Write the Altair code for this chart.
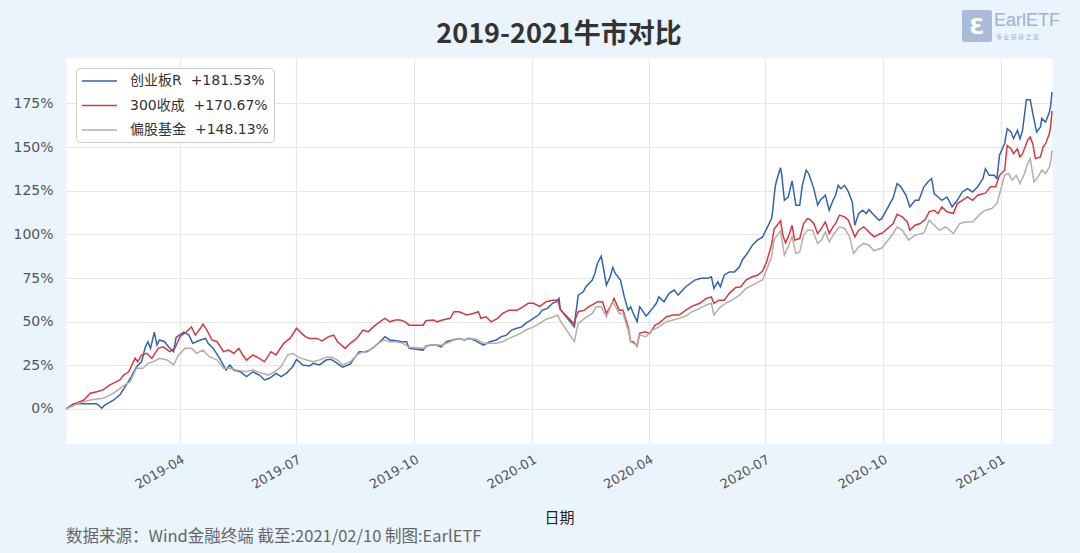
import altair as alt
import pandas as pd

series_names = ["创业板R", "300收成", "偏股基金"]
series_colors = ["#3462B3", "#D13B40", "#B8ADA4"]

cyb_dates = [
    "2019-01-02", "2019-01-08", "2019-01-13", "2019-01-26", "2019-01-30", "2019-02-01", "2019-02-08",
    "2019-02-13", "2019-02-18", "2019-02-22", "2019-02-26", "2019-03-02", "2019-03-05", "2019-03-07",
    "2019-03-09", "2019-03-12", "2019-03-14", "2019-03-16", "2019-03-20", "2019-03-23", "2019-03-27",
    "2019-03-29", "2019-04-04", "2019-04-08", "2019-04-11", "2019-04-17", "2019-04-21", "2019-04-23",
    "2019-04-27", "2019-05-02", "2019-05-07", "2019-05-10", "2019-05-13", "2019-05-18", "2019-05-23",
    "2019-05-28", "2019-06-02", "2019-06-06", "2019-06-10", "2019-06-15", "2019-06-19", "2019-06-23",
    "2019-06-28", "2019-07-01", "2019-07-06", "2019-07-11", "2019-07-14", "2019-07-19", "2019-07-24",
    "2019-07-28", "2019-08-01", "2019-08-06", "2019-08-12", "2019-08-15", "2019-08-19", "2019-08-25",
    "2019-08-29", "2019-09-03", "2019-09-08", "2019-09-12", "2019-09-17", "2019-09-21", "2019-09-25",
    "2019-09-27", "2019-10-08", "2019-10-10", "2019-10-14", "2019-10-18", "2019-10-22", "2019-10-26",
    "2019-10-31", "2019-11-05", "2019-11-09", "2019-11-13", "2019-11-18", "2019-11-24", "2019-11-29",
    "2019-12-04", "2019-12-08", "2019-12-12", "2019-12-16", "2019-12-20", "2019-12-24", "2019-12-27",
    "2020-01-02", "2020-01-06", "2020-01-09", "2020-01-13", "2020-01-17", "2020-01-20", "2020-01-22",
    "2020-01-23", "2020-02-03", "2020-02-04", "2020-02-05", "2020-02-06", "2020-02-10", "2020-02-12",
    "2020-02-17", "2020-02-19", "2020-02-21", "2020-02-24", "2020-02-26", "2020-02-28", "2020-03-02",
    "2020-03-04", "2020-03-06", "2020-03-10", "2020-03-13", "2020-03-16", "2020-03-18", "2020-03-20",
    "2020-03-23", "2020-03-25", "2020-03-27", "2020-03-30", "2020-04-03", "2020-04-07", "2020-04-09",
    "2020-04-13", "2020-04-17", "2020-04-21", "2020-04-24", "2020-04-30", "2020-05-07", "2020-05-12",
    "2020-05-17", "2020-05-20", "2020-05-22", "2020-05-25", "2020-05-27", "2020-05-30", "2020-06-03",
    "2020-06-07", "2020-06-11", "2020-06-13", "2020-06-17", "2020-06-21", "2020-06-25", "2020-06-29",
    "2020-07-02", "2020-07-06", "2020-07-07", "2020-07-08", "2020-07-09", "2020-07-10", "2020-07-13",
    "2020-07-14", "2020-07-16", "2020-07-19", "2020-07-22", "2020-07-25", "2020-07-28", "2020-07-30",
    "2020-08-02", "2020-08-04", "2020-08-08", "2020-08-11", "2020-08-13", "2020-08-17", "2020-08-20",
    "2020-08-23", "2020-08-25", "2020-08-27", "2020-08-29", "2020-09-01", "2020-09-04", "2020-09-07",
    "2020-09-09", "2020-09-12", "2020-09-15", "2020-09-18", "2020-09-20", "2020-09-24", "2020-09-28",
    "2020-09-30", "2020-10-09", "2020-10-12", "2020-10-15", "2020-10-19", "2020-10-22", "2020-10-26",
    "2020-10-29", "2020-11-02", "2020-11-05", "2020-11-08", "2020-11-10", "2020-11-13", "2020-11-16",
    "2020-11-20", "2020-11-24", "2020-11-28", "2020-12-02", "2020-12-06", "2020-12-10", "2020-12-14",
    "2020-12-18", "2020-12-20", "2020-12-23", "2020-12-27", "2020-12-29", "2020-12-31", "2021-01-04",
    "2021-01-06", "2021-01-09", "2021-01-11", "2021-01-14", "2021-01-16", "2021-01-18", "2021-01-21",
    "2021-01-24", "2021-01-26", "2021-01-29", "2021-02-01", "2021-02-02", "2021-02-05", "2021-02-08",
    "2021-02-09", "2021-02-10",
]
cyb_values = [
    0, 3, 3, 3, 0.4, 2, 5,
    8, 13.7, 18.5, 24, 27, 35.6, 38.5,
    34.7, 44, 36.6, 39.5, 38.5, 35.6, 32.8,
    41, 44, 42.3, 37.6, 39.5, 40.4, 37.6,
    34.7, 29, 22.3, 25.2, 22.3, 21.3, 18.5,
    21.3, 19.4, 16.6, 17.6, 20.4, 18.5, 20.4,
    24.2, 28.4, 25.2, 24.6, 26.1, 25.2, 28,
    28.4, 26.5, 23.9, 25.7, 29, 32.8, 32.8,
    34.7, 37.6, 41.4, 39.5, 39, 38.5, 38.5,
    34.7, 33.7, 36, 36.6, 36.6, 35.6, 38.5,
    39.5, 40.4, 39.5, 40.4, 39, 36.6, 38.5,
    39.5, 41.4, 42.3, 45.2, 46.2, 47, 49,
    51.9, 53.8, 56.6, 57.6, 60.5, 61.5, 63.3,
    57, 47, 54, 59.5, 65.2, 67.1, 70,
    73.8, 77.6, 83.3, 87.5, 79.5, 70.9, 75.7,
    81, 77.6, 73.8, 64.2, 56.6, 58.5, 54.7,
    50, 58.5, 56.6, 53.2, 56.6, 60.5, 64.2,
    61.4, 66.2, 68.1, 65.2, 70, 73.8, 74.8,
    74.8, 75.7, 69, 72.8, 70, 76.6, 78.5,
    78.5, 81.4, 85.2, 89, 93.8, 96.7, 98.5,
    103, 109, 114, 122, 128, 131, 138.2,
    133.8, 119.5, 121.4, 130.6, 116.7, 116.7, 128.1,
    136.7, 134.8, 126.2, 116.7, 119.5, 122.4, 113.8,
    119.5, 122.4, 128.1, 126.2, 128.1, 124.3, 118.6,
    105.2, 111.9, 113.8, 111.9, 114.3, 111, 108.1,
    109, 121, 129.1, 127.2, 122.4, 115.7, 119.5,
    119.5, 127.2, 130, 131.9, 123.3, 121.4, 119.5,
    121.4, 115.7, 119.5, 124.3, 126.2, 124.3, 127.2,
    131.9, 137.6, 133.8, 133.8, 131.9, 145.3, 152,
    160.5, 158.6, 154.8, 159.6, 154.8, 159.6, 177.1,
    177.1, 169.1, 158.6, 161.5, 166.3, 164.3, 170,
    174, 181.53,
]

hs300_dates = [
    "2019-01-02", "2019-01-10", "2019-01-16", "2019-01-21", "2019-01-26", "2019-01-31", "2019-02-05",
    "2019-02-13", "2019-02-16", "2019-02-20", "2019-02-25", "2019-02-27", "2019-03-02", "2019-03-06",
    "2019-03-10", "2019-03-15", "2019-03-19", "2019-03-24", "2019-03-28", "2019-04-01", "2019-04-06",
    "2019-04-10", "2019-04-13", "2019-04-17", "2019-04-19", "2019-04-22", "2019-04-26", "2019-04-30",
    "2019-05-05", "2019-05-09", "2019-05-13", "2019-05-17", "2019-05-20", "2019-05-23", "2019-05-28",
    "2019-06-02", "2019-06-06", "2019-06-11", "2019-06-15", "2019-06-21", "2019-06-26", "2019-07-01",
    "2019-07-05", "2019-07-08", "2019-07-11", "2019-07-17", "2019-07-21", "2019-07-26", "2019-07-30",
    "2019-08-02", "2019-08-08", "2019-08-12", "2019-08-17", "2019-08-22", "2019-08-26", "2019-08-30",
    "2019-09-04", "2019-09-08", "2019-09-12", "2019-09-16", "2019-09-20", "2019-09-24", "2019-09-27",
    "2019-10-08", "2019-10-10", "2019-10-16", "2019-10-19", "2019-10-23", "2019-10-29", "2019-11-01",
    "2019-11-05", "2019-11-11", "2019-11-16", "2019-11-20", "2019-11-22", "2019-11-26", "2019-11-30",
    "2019-12-05", "2019-12-09", "2019-12-14", "2019-12-20", "2019-12-23", "2019-12-29", "2020-01-02",
    "2020-01-07", "2020-01-12", "2020-01-17", "2020-01-21", "2020-01-23", "2020-02-03", "2020-02-04",
    "2020-02-06", "2020-02-11", "2020-02-14", "2020-02-19", "2020-02-21", "2020-02-25", "2020-02-28",
    "2020-03-02", "2020-03-05", "2020-03-09", "2020-03-12", "2020-03-16", "2020-03-18", "2020-03-20",
    "2020-03-23", "2020-03-25", "2020-03-29", "2020-04-02", "2020-04-06", "2020-04-09", "2020-04-15",
    "2020-04-20", "2020-04-25", "2020-04-30", "2020-05-05", "2020-05-11", "2020-05-16", "2020-05-20",
    "2020-05-22", "2020-05-26", "2020-05-30", "2020-06-03", "2020-06-08", "2020-06-12", "2020-06-16",
    "2020-06-21", "2020-06-25", "2020-06-29", "2020-07-02", "2020-07-06", "2020-07-08", "2020-07-13",
    "2020-07-15", "2020-07-17", "2020-07-20", "2020-07-22", "2020-07-24", "2020-07-28", "2020-07-31",
    "2020-08-03", "2020-08-05", "2020-08-08", "2020-08-11", "2020-08-13", "2020-08-17", "2020-08-20",
    "2020-08-23", "2020-08-25", "2020-08-28", "2020-09-01", "2020-09-04", "2020-09-07", "2020-09-09",
    "2020-09-12", "2020-09-16", "2020-09-20", "2020-09-24", "2020-09-29", "2020-09-30", "2020-10-09",
    "2020-10-12", "2020-10-16", "2020-10-20", "2020-10-22", "2020-10-26", "2020-10-30", "2020-11-03",
    "2020-11-06", "2020-11-10", "2020-11-13", "2020-11-16", "2020-11-20", "2020-11-25", "2020-11-28",
    "2020-12-02", "2020-12-06", "2020-12-10", "2020-12-14", "2020-12-18", "2020-12-20", "2020-12-24",
    "2020-12-28", "2020-12-31", "2021-01-04", "2021-01-06", "2021-01-09", "2021-01-11", "2021-01-14",
    "2021-01-16", "2021-01-18", "2021-01-22", "2021-01-24", "2021-01-26", "2021-01-28", "2021-02-01",
    "2021-02-03", "2021-02-05", "2021-02-08", "2021-02-09", "2021-02-10",
]
hs300_values = [
    0, 3.3, 5.1, 9, 9.9, 10.9, 13.7,
    16.6, 19.4, 21.3, 29, 27, 30.9, 31.9,
    29, 34.7, 35.6, 32.8, 34.7, 41.4, 44.2,
    47, 42.3, 46.2, 48.6, 45.2, 39.5, 38.5,
    32.8, 33.7, 31.9, 34.7, 30.9, 28, 30.9,
    29, 27, 32.8, 30.9, 37.6, 40.4, 46.2,
    43.3, 41.4, 40.4, 40.4, 39, 41.4, 42.3,
    38.5, 34.7, 37.6, 40.4, 45.2, 44.2, 47,
    49.9, 51.9, 49.9, 50.9, 50.9, 49.9, 48,
    48, 50.5, 50.9, 49.9, 50.9, 51.9, 55.7,
    55.7, 53.8, 54.7, 55.7, 51.9, 52.8, 49.9,
    51.9, 54.7, 56.6, 56.6, 57.6, 60.5, 60.5,
    58.7, 61.4, 62.3, 62.3, 57, 48.6, 52,
    55.7, 56.6, 58.5, 60.5, 61.4, 61.4, 54.7,
    58.5, 63.3, 56.6, 56.6, 47, 38.5, 38.5,
    36, 43.3, 44.2, 43.3, 48, 49, 52.8,
    53.8, 53.8, 56.6, 58.9, 60.5, 63.3, 64.2,
    60.5, 62.3, 62.3, 66.2, 69.6, 70, 73.8,
    75.7, 76.6, 79, 84, 94, 103, 107.7,
    99, 95.1, 100.5, 105.2, 96.7, 97.6, 106.2,
    109, 108.5, 106.2, 100.5, 102.4, 107.1, 100.5,
    104.3, 106.2, 111, 110, 108.1, 102.4, 98.6,
    102.4, 104.3, 101.4, 98.6, 100.5, 100.5, 106.2,
    111.5, 110, 107.1, 102.4, 105.2, 106.2, 108.5,
    112.9, 113.8, 111.9, 115.7, 112.9, 111.9, 117.6,
    119.5, 121.4, 119.5, 122.4, 123.3, 123.6, 127.2,
    127.2, 133.8, 136.7, 150.9, 149, 146.2, 149,
    144.3, 146.2, 153.9, 155.7, 151.9, 143.4, 144.3,
    150, 151.9, 157.7, 162, 170.67,
]

fund_dates = [
    "2019-01-02", "2019-01-13", "2019-01-21", "2019-01-31", "2019-02-08", "2019-02-15", "2019-02-21",
    "2019-02-26", "2019-03-03", "2019-03-07", "2019-03-11", "2019-03-16", "2019-03-22", "2019-03-27",
    "2019-03-31", "2019-04-05", "2019-04-10", "2019-04-14", "2019-04-19", "2019-04-24", "2019-04-30",
    "2019-05-05", "2019-05-10", "2019-05-15", "2019-05-22", "2019-05-28", "2019-06-04", "2019-06-09",
    "2019-06-14", "2019-06-19", "2019-06-24", "2019-06-28", "2019-07-03", "2019-07-09", "2019-07-14",
    "2019-07-19", "2019-07-24", "2019-07-29", "2019-08-02", "2019-08-06", "2019-08-12", "2019-08-17",
    "2019-08-22", "2019-08-27", "2019-09-01", "2019-09-07", "2019-09-12", "2019-09-17", "2019-09-22",
    "2019-09-27", "2019-10-08", "2019-10-13", "2019-10-18", "2019-10-23", "2019-10-29", "2019-11-03",
    "2019-11-08", "2019-11-13", "2019-11-18", "2019-11-24", "2019-11-29", "2019-12-04", "2019-12-09",
    "2019-12-14", "2019-12-20", "2019-12-23", "2019-12-27", "2020-01-02", "2020-01-07", "2020-01-12",
    "2020-01-17", "2020-01-21", "2020-01-23", "2020-02-03", "2020-02-04", "2020-02-05", "2020-02-06",
    "2020-02-11", "2020-02-17", "2020-02-20", "2020-02-24", "2020-02-28", "2020-03-04", "2020-03-09",
    "2020-03-12", "2020-03-16", "2020-03-18", "2020-03-23", "2020-03-25", "2020-03-30", "2020-04-04",
    "2020-04-09", "2020-04-15", "2020-04-20", "2020-04-25", "2020-04-30", "2020-05-05", "2020-05-11",
    "2020-05-16", "2020-05-20", "2020-05-22", "2020-05-26", "2020-05-31", "2020-06-05", "2020-06-11",
    "2020-06-16", "2020-06-21", "2020-06-26", "2020-06-29", "2020-07-02", "2020-07-06", "2020-07-08",
    "2020-07-13", "2020-07-16", "2020-07-19", "2020-07-22", "2020-07-25", "2020-07-28", "2020-07-31",
    "2020-08-03", "2020-08-07", "2020-08-11", "2020-08-14", "2020-08-17", "2020-08-20", "2020-08-24",
    "2020-08-28", "2020-09-01", "2020-09-05", "2020-09-08", "2020-09-12", "2020-09-16", "2020-09-20",
    "2020-09-24", "2020-09-29", "2020-09-30", "2020-10-09", "2020-10-12", "2020-10-16", "2020-10-21",
    "2020-10-26", "2020-11-02", "2020-11-06", "2020-11-10", "2020-11-14", "2020-11-19", "2020-11-25",
    "2020-11-30", "2020-12-04", "2020-12-10", "2020-12-15", "2020-12-20", "2020-12-25", "2020-12-29",
    "2020-12-31", "2021-01-04", "2021-01-07", "2021-01-10", "2021-01-13", "2021-01-16", "2021-01-19",
    "2021-01-22", "2021-01-24", "2021-01-27", "2021-01-30", "2021-02-02", "2021-02-05", "2021-02-08",
    "2021-02-09", "2021-02-10",
]
fund_values = [
    0, 3.6, 5.1, 6.1, 9, 12.8, 15.6,
    23.3, 23.3, 26.1, 27, 29, 28, 25.2,
    30.9, 34.7, 34.7, 31.9, 33.7, 29.9, 28,
    23.3, 23.3, 22.3, 21.3, 22.3, 20.4, 19.4,
    21.3, 24.2, 30.9, 31.9, 29.5, 28, 27,
    28, 29.6, 29.6, 28, 25.2, 27, 30.9,
    32.8, 33.7, 36.6, 39.5, 38.5, 38.5, 37.6,
    35.3, 34.7, 36.6, 36.6, 36.6, 38.5, 40.4,
    39.8, 40, 40, 37.6, 37.6, 37.6, 38.5,
    40.4, 42.3, 43.3, 45.2, 47, 49, 51.4,
    52.5, 53.8, 50.5, 38.5, 42, 46, 49,
    51.9, 54.7, 58.5, 58.5, 52.8, 61.4, 54.7,
    54.7, 45.2, 38.5, 36.6, 42.3, 41.4, 45.2,
    47, 50, 50.9, 51.9, 53.2, 55.7, 57.6,
    59.5, 60.5, 53.8, 57.6, 60.5, 62.3, 65.2,
    69, 70.9, 72.8, 74, 79.5, 87, 97,
    102, 88.1, 92.8, 98.6, 89, 90, 99.5,
    102.4, 102.4, 94.8, 96.7, 101.4, 95.7, 100.5,
    104.3, 103.4, 98.6, 89, 92.8, 94.8, 93.8,
    90.6, 91.9, 92, 100.5, 104.3, 102.4, 96.7,
    99.5, 100.8, 108.1, 105.2, 102.4, 104.3, 100.5,
    106.2, 107.1, 107.1, 111, 113.8, 114.8, 117.6,
    123, 133.8, 134.8, 131, 133.8, 129.1, 133.8,
    140.5, 143.4, 130, 132.9, 136.7, 134.8, 138.6,
    142, 148.13,
]

x_domain = ["2019-01-02", "2021-02-10"]
y_ticks = [0, 25, 50, 75, 100, 125, 150, 175]

title_text = "2019-2021牛市对比"
x_title = "日期"
footer_text = "数据来源：Wind金融终端 截至:2021/02/10 制图:EarlETF"
logo_text = "EarlETF"
logo_sub = "专 业 投 基 之 道"
logo_glyph = "Ɛ"

frames = []
labels = []
for name, d, v in zip(series_names, [cyb_dates, hs300_dates, fund_dates],
                      [cyb_values, hs300_values, fund_values]):
    label = f"{name}\u00a0\u00a0+{v[-1]:.2f}%"
    labels.append(label)
    frames.append(pd.DataFrame({"date": d, "value": v, "series": label}))
df = pd.concat(frames, ignore_index=True)

W, H = 986, 385
FONT_CJK = "Noto Sans CJK SC"
FONT_LAT = "DejaVu Sans, Noto Sans CJK SC"

lines = alt.Chart(df).mark_line(strokeWidth=1.5).encode(
    x=alt.X("date:T",
            scale=alt.Scale(domain=x_domain, nice=False),
            axis=alt.Axis(title=x_title, format="%Y-%m",
                          tickCount=alt.TickCount(interval="month", step=3),
                          labelAngle=-30, labelAlign="right", labelBaseline="top",
                          labelFontSize=13, labelColor="#555555", labelFont=FONT_LAT,
                          labelPadding=10, ticks=False, domain=False,
                          grid=True, gridColor="#E6E6E6", gridWidth=1.2,
                          titleFont=FONT_CJK, titleFontSize=15, titleFontWeight="normal",
                          titleColor="#222222", titlePadding=19)),
    y=alt.Y("value:Q",
            scale=alt.Scale(domain=[-19.5, 201], nice=False, zero=False),
            axis=alt.Axis(title=None, values=y_ticks, labelExpr="datum.value + '%'",
                          labelFontSize=14, labelColor="#555555", labelFont=FONT_LAT,
                          labelPadding=13, ticks=False, domain=False,
                          grid=True, gridColor="#E6E6E6", gridWidth=1.2)),
    color=alt.Color("series:N",
                    scale=alt.Scale(domain=labels, range=series_colors),
                    legend=alt.Legend(orient="none", legendX=10, legendY=10, title=None,
                                      symbolType="M-1,0H4", symbolSize=196,
                                      symbolStrokeWidth=1.6, symbolFillColor="transparent",
                                      labelOffset=33, labelFontSize=14, labelFont=FONT_LAT,
                                      labelColor="#333333", padding=5, rowPadding=9.5,
                                      fillColor="white", strokeColor="#CCCCCC",
                                      cornerRadius=4)),
)

one = pd.DataFrame({"k": [0]})

title = alt.Chart(one).mark_text(align="center", baseline="middle", fontSize=27,
                                 fontWeight="bold", font=FONT_CJK, color="#333333").encode(
    x=alt.value(W / 2), y=alt.value(-23), text=alt.value(title_text))

footer = alt.Chart(one).mark_text(align="left", baseline="middle", fontSize=16.5,
                                  font=FONT_CJK, color="#666666").encode(
    x=alt.value(0), y=alt.value(H + 94), text=alt.value(footer_text))

logo_box = alt.Chart(one).mark_rect(color="#A9BCD9", cornerRadius=2).encode(
    x=alt.value(896), x2=alt.value(926), y=alt.value(-48), y2=alt.value(-16))
logo_mark = alt.Chart(one).mark_text(align="center", baseline="middle", fontSize=22,
                                     fontWeight="bold", font="DejaVu Sans", color="white").encode(
    x=alt.value(911), y=alt.value(-31), text=alt.value(logo_glyph))
logo_word = alt.Chart(one).mark_text(align="left", baseline="middle", fontSize=18,
                                     font="Liberation Sans", color="#9DB1CF").encode(
    x=alt.value(928), y=alt.value(-37), text=alt.value(logo_text))
logo_small = alt.Chart(one).mark_text(align="left", baseline="middle", fontSize=6,
                                      font=FONT_CJK, color="#9DB1CF").encode(
    x=alt.value(930), y=alt.value(-21), text=alt.value(logo_sub))

chart = alt.layer(lines, title, footer, logo_box, logo_mark, logo_word, logo_small).properties(
    width=W, height=H,
    autosize=alt.AutoSizeParams(type="none"),
    padding={"left": 66, "top": 58, "right": 28, "bottom": 110},
    background="#EAF4FC",
).configure_view(fill="white", stroke="transparent")

chart.save("out.html", embed_options={"renderer": "svg", "actions": False})
